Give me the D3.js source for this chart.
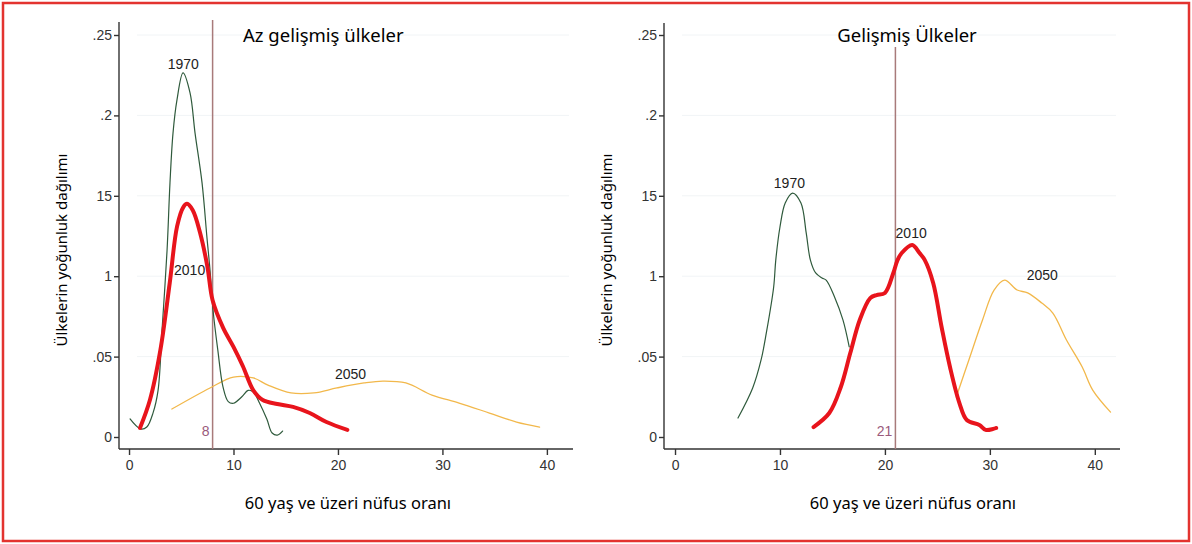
<!DOCTYPE html>
<html>
<head>
<meta charset="utf-8">
<script src="https://cdn.jsdelivr.net/npm/d3@7"></script>
<style>
  body { margin: 0; background: #fff; }
  svg { display: block; }
</style>
</head>
<body>
<svg width="1192" height="544"></svg>
<script>
// tick labels as printed on the figure
const xTicks = [0, 10, 20, 30, 40];
const yTicks = [0, 0.05, 0.1, 0.15, 0.2, 0.25];
const yTickLabels = ["0", ".05", "1", "15", ".2", ".25"];

// Az gelişmiş ülkeler (less developed)
const az1970 = [[0.1,0.0112],[1.1,0.0050],[1.7,0.0062],[2.3,0.015],[2.78,0.029],[3.16,0.0665],[3.64,0.116],[3.92,0.158],[4.21,0.189],[4.59,0.2096],[5.17,0.2264],[5.84,0.214],[6.32,0.189],[6.99,0.158],[7.46,0.124],[7.75,0.104],[8.04,0.079],[8.5,0.054],[9.0,0.031],[9.5,0.022],[10.0,0.021],[10.8,0.025],[11.4,0.029],[11.9,0.028],[12.5,0.021],[13.2,0.011],[13.7,0.0025],[14.2,0.0012],[14.7,0.0037]];
const az2010 = [[1.05,0.0056],[2.0,0.023],[3.0,0.054],[3.9,0.096],[4.6,0.131],[5.2,0.143],[5.55,0.145],[6.1,0.141],[6.8,0.127],[7.5,0.106],[8.0,0.085],[9.0,0.068],[10.0,0.056],[10.9,0.044],[11.9,0.029],[12.8,0.023],[14.2,0.0205],[15.7,0.0187],[17.3,0.0149],[18.9,0.0093],[20.9,0.0044]];
const az2050 = [[4.1,0.0174],[7.75,0.0305],[10.0,0.0373],[11.9,0.0367],[13.3,0.0323],[15.5,0.0274],[17.7,0.0274],[19.9,0.0305],[22.5,0.0336],[24.3,0.0348],[26.5,0.0336],[29.0,0.0261],[31.6,0.0211],[34.5,0.0149],[37.1,0.0093],[39.3,0.0062]];

// Gelişmiş Ülkeler (developed)
const gel1970 = [[6.0,0.0118],[7.4,0.0305],[8.2,0.0479],[8.7,0.0647],[9.4,0.0933],[9.6,0.110],[10.0,0.1306],[10.5,0.1455],[11.2,0.1517],[12.0,0.1455],[12.5,0.1269],[12.9,0.110],[13.4,0.102],[14.0,0.0989],[14.4,0.0976],[15.2,0.0871],[16.0,0.0728],[16.6,0.056]];
const gel2010 = [[13.2,0.0062],[14.7,0.0149],[15.8,0.0311],[16.7,0.0522],[17.6,0.0728],[18.6,0.0864],[19.2,0.0883],[20.0,0.0896],[20.8,0.102],[21.2,0.110],[21.6,0.1144],[22.6,0.1194],[23.3,0.1144],[23.8,0.110],[24.6,0.0958],[25.4,0.0684],[26.2,0.0435],[27.1,0.0211],[27.8,0.0106],[29.0,0.0075],[29.6,0.0044],[30.6,0.0056]];
const gel2050 = [[26.8,0.0249],[28.0,0.0479],[29.3,0.0728],[30.4,0.0914],[31.4,0.0976],[32.6,0.0914],[33.6,0.0896],[34.95,0.0833],[36.0,0.0771],[37.3,0.0603],[38.8,0.0435],[39.8,0.0292],[41.5,0.0155]];

const medians = { az: 8, gel: 21 };

const svg = d3.select("svg");
const tickFont = "'Liberation Sans', Arial, sans-serif";
const titleFont = "'Noto Sans', 'Open Sans', sans-serif";

// outer red frame
svg.append("rect")
  .attr("x", 3).attr("y", 3).attr("width", 1186).attr("height", 538)
  .attr("fill", "none").attr("stroke", "#e3332f").attr("stroke-width", 2.5);

function drawPanel(p) {
  const x = d3.scaleLinear().domain(p.xDomain).range(p.xRange);
  const y = d3.scaleLinear().domain([0, 0.25]).range([437, 35]);
  const g = svg.append("g");

  // faint grid
  g.selectAll(".grid").data(yTicks.slice(1)).join("line")
    .attr("x1", p.xRange[0] + 18).attr("x2", p.xRange[1] - 4)
    .attr("y1", d => y(d)).attr("y2", d => y(d))
    .attr("stroke", "#f1f4f6").attr("stroke-width", 1);

  // y axis
  const yAxis = g.append("g")
    .attr("transform", `translate(${p.xRange[0]},0)`)
    .call(d3.axisLeft(y).tickValues(yTicks)
      .tickFormat((d, i) => yTickLabels[i]).tickSize(5).tickPadding(2));
  yAxis.select(".domain").attr("d", `M0,${p.yTop}V449`);
  yAxis.selectAll("path, line").attr("stroke", "#333").attr("stroke-width", 1.4);
  yAxis.selectAll("text").attr("font-family", tickFont).attr("font-size", 14)
    .attr("fill", "#333");

  // x axis
  const xAxis = g.append("g")
    .attr("transform", "translate(0,449)")
    .call(d3.axisBottom(x).tickValues(xTicks).tickSize(6).tickPadding(5));
  xAxis.select(".domain").attr("d", `M${p.xRange[0]},0H${p.xRange[1]}`);
  xAxis.selectAll("path, line").attr("stroke", "#333").attr("stroke-width", 1.4);
  xAxis.selectAll("text").attr("font-family", tickFont).attr("font-size", 14)
    .attr("fill", "#333");

  // median line
  g.append("line")
    .attr("x1", x(p.median)).attr("x2", x(p.median))
    .attr("y1", p.medTop).attr("y2", 449)
    .attr("stroke", "#a87a7a").attr("stroke-width", 1.5);
  g.append("text")
    .attr("x", x(p.median) - 3).attr("y", 436)
    .attr("text-anchor", "end")
    .attr("font-family", tickFont).attr("font-size", 14)
    .attr("fill", "#9a5a7c").text(p.median);

  const line = d3.line().x(d => x(d[0])).y(d => y(d[1]))
    .curve(d3.curveCatmullRom.alpha(0.5));

  p.series.forEach(s => {
    g.append("path").datum(s.data)
      .attr("fill", "none").attr("stroke", s.color)
      .attr("stroke-width", s.width)
      .attr("stroke-linejoin", "round").attr("stroke-linecap", "round")
      .attr("d", line);
  });
  p.labels.forEach(l => {
    g.append("text").attr("x", x(l.x)).attr("y", y(l.y))
      .attr("text-anchor", "middle")
      .attr("font-family", tickFont).attr("font-size", 14)
      .attr("fill", "#222").text(l.text);
  });

  // titles
  g.append("text").attr("x", p.titleX).attr("y", 42)
    .attr("text-anchor", p.titleAnchor)
    .attr("font-family", titleFont).attr("font-size", 18.5)
    .attr("fill", "#000").text(p.title);
  g.append("text").attr("x", p.xTitleX).attr("y", 509)
    .attr("text-anchor", "middle")
    .attr("font-family", titleFont).attr("font-size", 16.5)
    .attr("fill", "#000").text("60 yaş ve üzeri nüfus oranı");
  g.append("text")
    .attr("transform", `translate(${p.yTitleX},250) rotate(-90)`)
    .attr("text-anchor", "middle")
    .attr("font-family", titleFont).attr("font-size", 15)
    .attr("fill", "#000").text("Ülkelerin yoğunluk dağılımı");
}

drawPanel({
  xDomain: [-0.96, 42.5], xRange: [119, 573], yTop: 22,
  median: medians.az, medTop: 20,
  title: "Az gelişmiş ülkeler", titleX: 243, titleAnchor: "start",
  xTitleX: 348, yTitleX: 67,
  series: [
    { data: az2050, color: "#f2b84b", width: 1.3 },
    { data: az1970, color: "#2f5a3c", width: 1.2 },
    { data: az2010, color: "#e8141c", width: 4 }
  ],
  labels: [
    { text: "1970", x: 5.2, y: 0.229 },
    { text: "2010", x: 5.8, y: 0.101 },
    { text: "2050", x: 21.2, y: 0.036 }
  ]
});

drawPanel({
  xDomain: [-1.05, 42.4], xRange: [664, 1120], yTop: 23,
  median: medians.gel, medTop: 47,
  title: "Gelişmiş Ülkeler", titleX: 907, titleAnchor: "middle",
  xTitleX: 913, yTitleX: 612,
  series: [
    { data: gel2050, color: "#f2b84b", width: 1.3 },
    { data: gel1970, color: "#2f5a3c", width: 1.2 },
    { data: gel2010, color: "#e8141c", width: 4 }
  ],
  labels: [
    { text: "1970", x: 10.9, y: 0.155 },
    { text: "2010", x: 22.5, y: 0.124 },
    { text: "2050", x: 35.0, y: 0.0975 }
  ]
});
</script>
</body>
</html>
